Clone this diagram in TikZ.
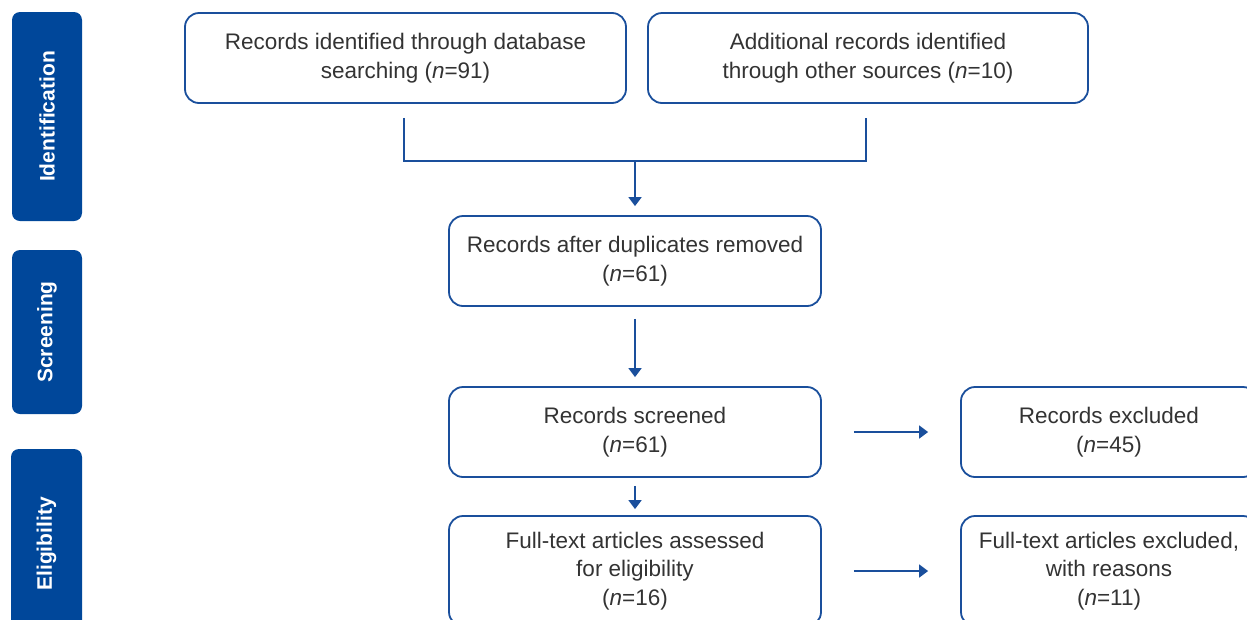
\documentclass[tikz,border=0pt]{standalone}
\usepackage{fontspec}
\setmainfont{Liberation Sans}
\usetikzlibrary{arrows.meta,calc}
\definecolor{tabblue}{HTML}{00479A}
\definecolor{lineblue}{HTML}{1A4F9C}
\definecolor{txt}{HTML}{333333}
\begin{document}
\begin{tikzpicture}[x=1pt,y=-1pt,
  box/.style={draw=lineblue,line width=1.8pt,rounded corners=14pt,align=center,text=txt,
    font=\fontsize{22.5}{28.5}\selectfont,inner sep=0pt},
  tab/.style={fill=tabblue,rounded corners=8pt,text=white,font=\fontsize{21}{24}\selectfont\bfseries,
    rotate=90,inner sep=0pt},
  conn/.style={draw=lineblue,line width=1.8pt},
  arr/.style={conn,-{Triangle[width=13pt,length=9pt]}}]
\useasboundingbox (0,0) rectangle (1247,619);
\clip (0,0) rectangle (1247,619);
% tabs
\node[tab,minimum width=209pt,minimum height=70pt] (t1) at (47,116.5) {Identification};
\node[tab,minimum width=164pt,minimum height=70pt] (t2) at (47,332) {Screening};
\node[tab,minimum width=190pt,minimum height=71pt] (t3) at (46.5,544) {Eligibility};
% boxes
\node[box,minimum width=441pt,minimum height=90pt] (b1) at (405.5,58) {Records identified through database\\searching (\textit{n}=91)};
\node[box,minimum width=440pt,minimum height=90pt] (b2) at (868,58) {Additional records identified\\through other sources (\textit{n}=10)};
\node[box,minimum width=372pt,minimum height=90pt] (b3) at (635,261) {Records after duplicates removed\\(\textit{n}=61)};
\node[box,minimum width=372pt,minimum height=90pt] (b4) at (635,432) {Records screened\\(\textit{n}=61)};
\node[box,minimum width=296pt,minimum height=90pt] (b5) at (1109,432) {Records excluded\\(\textit{n}=45)};
\node[box,minimum width=372pt,minimum height=110pt] (b6) at (635,571) {Full-text articles assessed\\for eligibility\\(\textit{n}=16)};
\node[box,minimum width=296pt,minimum height=110pt] (b7) at (1109,571) {Full-text articles excluded,\\with reasons\\(\textit{n}=11)};
% connectors
\coordinate (j) at (b3.north |- 0,161);
\draw[conn] ($(b1.south)+(-1.5,14)$) |- (j) -| ($(b2.south)+(-2,14)$);
\draw[arr,shorten >=9pt] (j) -- (b3.north);
\draw[arr,shorten <=12pt,shorten >=9pt] (b3.south) -- (b4.north);
\draw[arr,shorten <=8pt,shorten >=6pt] (b4.south) -- (b6.north);
\draw[arr,shorten <=32pt,shorten >=32pt] (b4.east) -- (b5.west);
\draw[arr,shorten <=32pt,shorten >=32pt] (b4.east |- b6.center) -- (b7.west);
\end{tikzpicture}
\end{document}
